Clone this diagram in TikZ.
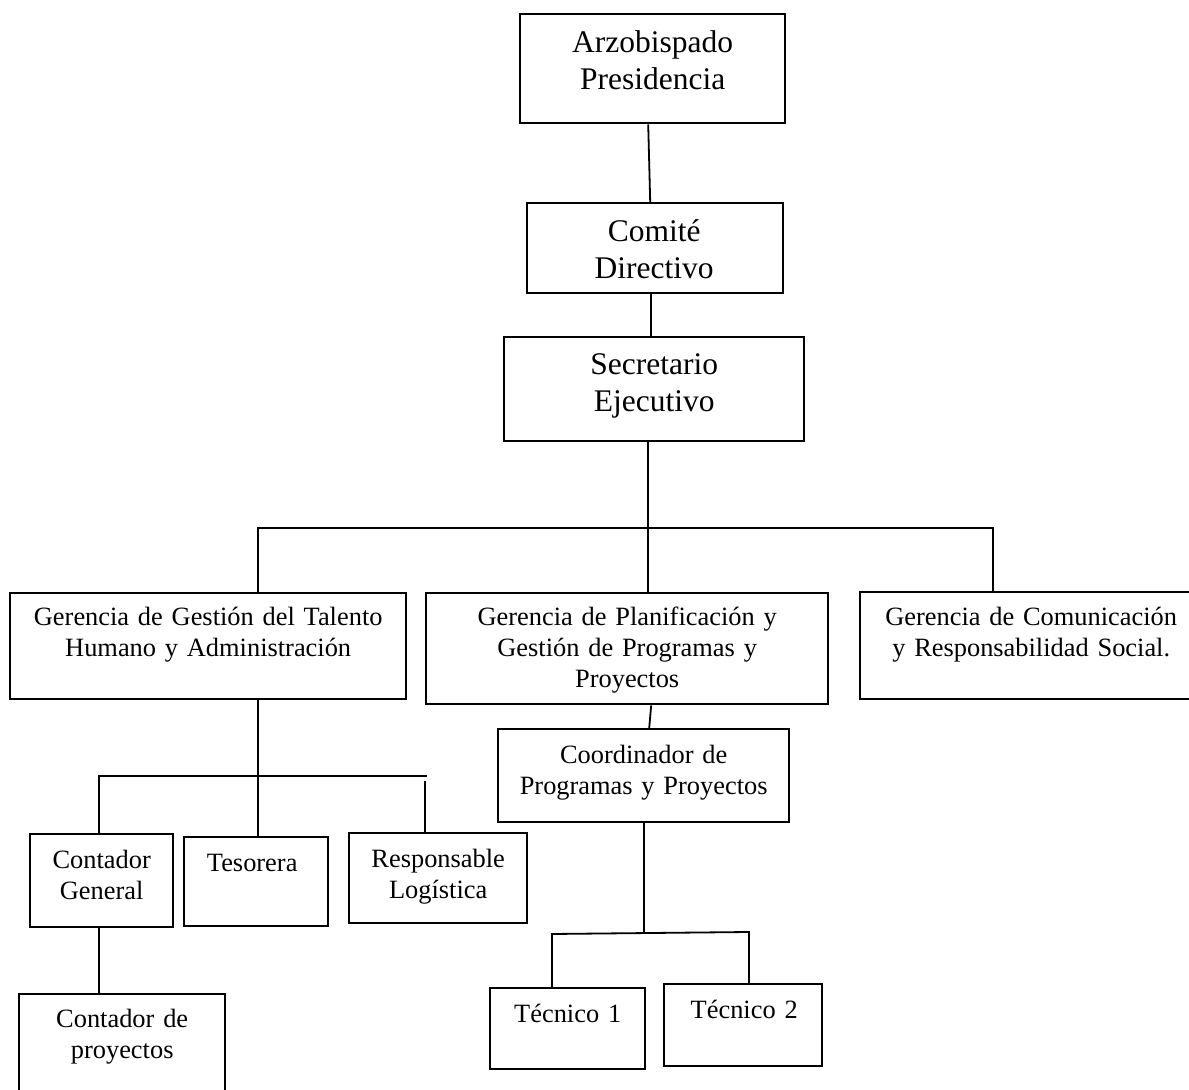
\documentclass[tikz,border=0pt]{standalone}
\usepackage{fontspec}
\setmainfont{Liberation Serif}
\usetikzlibrary{calc}
\newcommand\orgbox[5]{\node[orgrect, minimum width={(#4-#2)*0.5pt}, minimum height={(#5-#3)*0.5pt}] (#1) at (#2,#3) {};}
\begin{document}
\begin{tikzpicture}[x=0.5pt,y=-0.5pt,
  orgrect/.style={draw, line width=1.2pt, inner sep=0pt, anchor=north west},
  bigtxt/.style={font=\fontsize{15.75}{18.5}\selectfont, align=center, text width=150pt, inner sep=0pt, anchor=base},
  smalltxt/.style={font=\fontsize{13.2}{15.5}\selectfont, align=center, text width=200pt, inner sep=0pt, anchor=base},
  conn/.style={line width=0.9pt}]
\useasboundingbox (0,0) rectangle (1189,1090);
\clip (0,0) rectangle (1189,1090);
% boxes
\orgbox{arz}{519}{13}{784}{122}
\orgbox{com}{526}{202}{782}{292}
\orgbox{sec}{503}{336}{803}{440}
\orgbox{tal}{9}{592}{405}{698}
\orgbox{pla}{425}{592}{827}{703}
\orgbox{comu}{859}{591}{1201}{698}
\orgbox{coo}{497}{728}{788}{821}
\orgbox{cg}{29}{833}{172}{926}
\orgbox{tes}{183}{836}{327}{925}
\orgbox{res}{348}{832}{526}{922}
\orgbox{cp}{18}{993}{224}{1110}
\orgbox{tone}{489}{987}{644}{1068}
\orgbox{ttwo}{663}{983}{821}{1065}
% texts
\node[bigtxt] (arzt) at ($(arz.north)+(0,40)$) {Arzobispado\\Presidencia};
\node[bigtxt] (comt) at ($(com.north)+(-1,40)$) {Comité\\Directivo};
\node[bigtxt] (sect) at ($(sec.north)+(0,39)$) {Secretario\\Ejecutivo};
\node[smalltxt] (talt) at ($(tal.north)+(0,34)$) {Gerencia de Gestión del Talento\\Humano y Administración};
\node[smalltxt] (plat) at ($(pla.north)+(0,34)$) {Gerencia de Planificación y\\Gestión de Programas y\\Proyectos};
\node[smalltxt] (comut) at ($(comu.north)+(0,35)$) {Gerencia de Comunicación\\y Responsabilidad Social.};
\node[smalltxt] (coot) at ($(coo.north)+(0,35)$) {Coordinador de\\Programas y Proyectos};
\node[smalltxt] (cgt) at ($(cg.north)+(0,35)$) {Contador\\General};
\node[smalltxt] (test) at ($(tes.north)+(-4,35)$) {Tesorera};
\node[smalltxt] (rest) at ($(res.north)+(0,35)$) {Responsable\\Logística};
\node[smalltxt] (cpt) at ($(cp.north)+(0,34)$) {Contador de\\proyectos};
\node[smalltxt] (tonet) at ($(tone.north)+(0,35)$) {Técnico 1};
\node[smalltxt] (ttwot) at ($(ttwo.north)+(1,35)$) {Técnico 2};
% junction coordinates
\coordinate (bl) at (258,528);
\coordinate (br) at (993,528);
\coordinate (hl) at (99,776);
\coordinate (hm) at (258,776);
\coordinate (hr) at (427,776);
\coordinate (rtop) at (425,781);
\coordinate (tm) at (644,934);
\coordinate (tl) at (552,934);
\coordinate (tr) at (749,932);
% connectors
\draw[conn] ($(arz.south)+(-4.5,0)$) -- ($(com.north)+(-5,0)$);
\draw[conn] ($(com.south)+(-4,0)$) -- ($(sec.north)+(-3,0)$);
\draw[conn] ($(sec.south)+(-6,0)$) -- ($(pla.north)+(21,0)$);
\draw[conn] (tal.north -| bl) -- (bl) -- (br) -- (comu.north -| br);
\draw[conn] (tal.south -| hm) -- (hm);
\draw[conn] (cg.north -| hl) -- (hl) -- (hr);
\draw[conn] (hm) -- (tes.north -| hm);
\draw[conn] (rtop) -- (res.north -| rtop);
\draw[conn] (cg.south -| hl) -- (cp.north -| hl);
\draw[conn] ($(pla.south)+(24,0)$) -- ($(coo.north)+(5.5,0)$);
\draw[conn] (coo.south -| tm) -- (tm);
\draw[conn] (tone.north -| tl) -- (tl) -- (tr) -- (ttwo.north -| tr);
\end{tikzpicture}
\end{document}
